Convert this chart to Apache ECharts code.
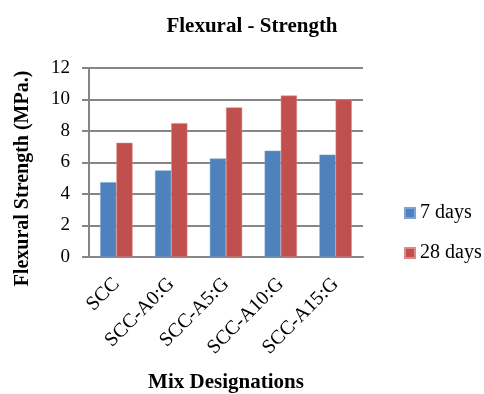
<!DOCTYPE html>
<html>
<head>
<meta charset="utf-8">
<script src="https://cdn.jsdelivr.net/npm/echarts@6/dist/echarts.min.js"></script>
<style>
  html, body { margin: 0; padding: 0; background: #fff; }
  #chart { width: 484px; height: 394px; }
</style>
</head>
<body>
<div id="chart"></div>
<script>
// Flexural strength of each mix at 7 and 28 days (MPa)
const categories = ['SCC', 'SCC-A0:G', 'SCC-A5:G', 'SCC-A10:G', 'SCC-A15:G'];
const days7 = [4.75, 5.5, 6.25, 6.75, 6.5];
const days28 = [7.25, 8.5, 9.5, 10.25, 10];
const seriesNames = ['7 days', '28 days'];

const serif = '"Liberation Serif", "Times New Roman", serif';
const gridGrey = '#868686';

const chart = echarts.init(document.getElementById('chart'), null, { renderer: 'canvas' });
chart.setOption({
  animation: false,
  backgroundColor: '#ffffff',
  title: {
    text: 'Flexural - Strength',
    left: 247,
    textAlign: 'center',
    top: 11,
    textStyle: { fontFamily: serif, fontWeight: 'bold', fontSize: 21, color: '#000' }
  },
  legend: {
    orient: 'vertical',
    left: 404,
    top: 203,
    itemWidth: 10,
    itemHeight: 10,
    itemGap: 20,
    itemTextGap: 5,
    padding: 0,
    icon: 'rect',
    textStyle: { fontFamily: serif, fontSize: 20, color: '#000' },
    data: seriesNames
  },
  grid: { left: 89, right: 121, top: 68, bottom: 137 },
  xAxis: {
    type: 'category',
    data: categories,
    name: 'Mix Designations',
    nameLocation: 'middle',
    nameGap: 115,
    nameTextStyle: { fontFamily: serif, fontWeight: 'bold', fontSize: 21, color: '#000' },
    axisLine: { lineStyle: { color: gridGrey, width: 2 } },
    axisTick: { show: false },
    axisLabel: {
      rotate: 45,
      margin: 24,
      fontFamily: serif,
      fontSize: 20,
      color: '#000'
    }
  },
  yAxis: {
    type: 'value',
    min: 0,
    max: 12,
    interval: 2,
    name: 'Flexural Strength (MPa.)',
    nameLocation: 'middle',
    nameGap: 56,
    nameTextStyle: { fontFamily: serif, fontWeight: 'bold', fontSize: 20, color: '#000', padding: [0, 32, 0, 0] },
    axisLine: { show: true, lineStyle: { color: gridGrey, width: 2 } },
    axisTick: { show: true, inside: false, length: 7, lineStyle: { color: gridGrey, width: 2 } },
    axisLabel: { margin: 19, fontFamily: serif, fontSize: 19, color: '#000' },
    splitLine: { show: true, lineStyle: { color: gridGrey, width: 2 } }
  },
  series: [
    {
      name: seriesNames[0],
      type: 'bar',
      data: days7,
      barGap: '0%',
      barCategoryGap: '41%',
      itemStyle: { color: '#4F81BD', borderColor: '#7FA3D3', borderWidth: 0.5 }
    },
    {
      name: seriesNames[1],
      type: 'bar',
      data: days28,
      itemStyle: { color: '#C0504D', borderColor: '#E08A88', borderWidth: 0.5 }
    }
  ]
});
</script>
</body>
</html>
